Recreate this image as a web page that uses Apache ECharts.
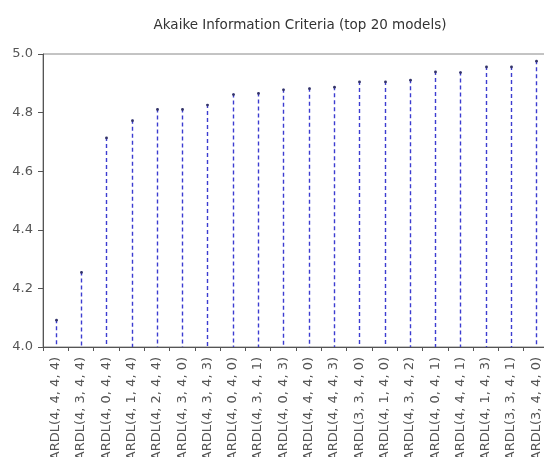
<!DOCTYPE html>
<html>
<head>
<meta charset="utf-8">
<script src="https://cdn.jsdelivr.net/npm/echarts@6/dist/echarts.min.js"></script>
<style>html,body{margin:0;padding:0;background:#fff}#c{width:544px;height:457px}</style>
</head>
<body>
<div id="c"></div>
<script>
const titleText = "Akaike Information Criteria (top 20 models)";
const categories = [
  "ARDL(4, 4, 4, 4)", "ARDL(4, 3, 4, 4)", "ARDL(4, 0, 4, 4)", "ARDL(4, 1, 4, 4)",
  "ARDL(4, 2, 4, 4)", "ARDL(4, 3, 4, 0)", "ARDL(4, 3, 4, 3)", "ARDL(4, 0, 4, 0)",
  "ARDL(4, 3, 4, 1)", "ARDL(4, 0, 4, 3)", "ARDL(4, 4, 4, 0)", "ARDL(4, 4, 4, 3)",
  "ARDL(3, 3, 4, 0)", "ARDL(4, 1, 4, 0)", "ARDL(4, 3, 4, 2)", "ARDL(4, 0, 4, 1)",
  "ARDL(4, 4, 4, 1)", "ARDL(4, 1, 4, 3)", "ARDL(3, 3, 4, 1)", "ARDL(3, 4, 4, 0)"
];
const aicValues = [
  4.095, 4.258, 4.717, 4.776, 4.814, 4.814, 4.829, 4.865, 4.869, 4.881,
  4.885, 4.890, 4.908, 4.908, 4.914, 4.942, 4.940, 4.959, 4.959, 4.979
];
const yMin = 4.0, yMax = 5.0, yStep = 0.2;

const font = 'DejaVu Sans, Verdana, sans-serif';
const chart = echarts.init(document.getElementById('c'), null, {renderer: 'canvas'});
const stemColor = '#3c3cd0';
chart.setOption({
  animation: false,
  backgroundColor: '#fff',
  title: {
    text: titleText,
    left: 295, top: 13, textAlign: 'center',
    textStyle: {fontFamily: font, fontSize: 13.5, fontWeight: 'normal', color: '#333'}
  },
  grid: {left: 43, right: -5, top: 54, bottom: 110, containLabel: false, outerBoundsMode: 'none',
         show: true, borderColor: '#888', borderWidth: 1, backgroundColor: 'transparent'},
  xAxis: {
    type: 'category',
    data: categories,
    boundaryGap: true,
    axisLine: {show: true, lineStyle: {color: '#555', width: 1}},
    axisTick: {show: true, interval: 0, length: 4, lineStyle: {color: '#555'}},
    axisLabel: {interval: 0, rotate: 90, margin: 10, fontSize: 13, color: '#555', fontFamily: font, hideOverlap: false},
    splitLine: {show: false}
  },
  yAxis: {
    type: 'value',
    min: yMin, max: yMax, interval: yStep,
    axisLine: {show: true, lineStyle: {color: '#555', width: 1}},
    axisTick: {show: true, length: 5, lineStyle: {color: '#555'}},
    axisLabel: {fontSize: 13, color: '#555', margin: 10, fontFamily: font, formatter: v => v.toFixed(1)},
    splitLine: {show: false}
  },
  series: [{
    type: 'custom',
    data: aicValues.map((v, i) => [i, v]),
    encode: {x: 0, y: 1},
    renderItem: function (params, api) {
      const i = api.value(0), v = api.value(1);
      const top = api.coord([i, v]);
      const base = api.coord([i, yMin]);
      const x = Math.round(top[0]) + 0.5;
      return {
        type: 'group',
        children: [
          {type: 'line', shape: {x1: x, y1: top[1], x2: x, y2: base[1]},
           style: {stroke: stemColor, lineWidth: 1.4, lineDash: [4, 3]}},
          {type: 'circle', shape: {cx: x, cy: top[1] + 1, r: 1.4},
           style: {fill: '#333366'}}
        ]
      };
    }
  }]
});
</script>
</body>
</html>
